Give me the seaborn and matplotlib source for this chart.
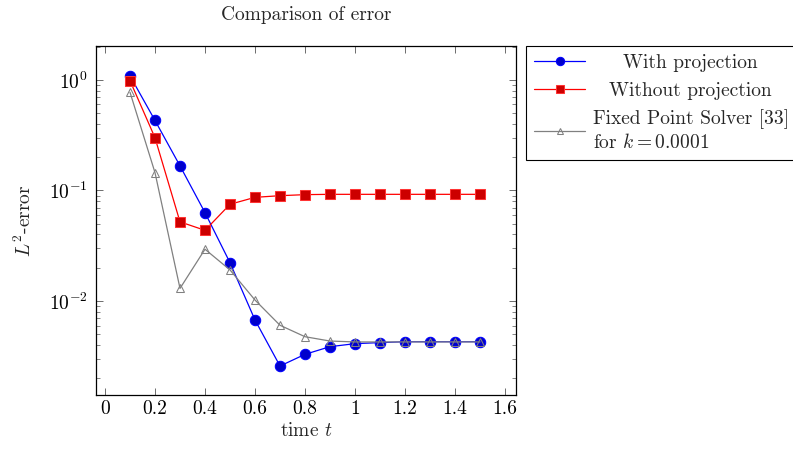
import numpy as np
import pandas as pd
import matplotlib
matplotlib.use("Agg")
import matplotlib.pyplot as plt
import seaborn as sns
from matplotlib.ticker import LogLocator, NullFormatter
from matplotlib.transforms import Affine2D

t = [0.1, 0.2, 0.3, 0.4, 0.5, 0.6, 0.7, 0.8, 0.9, 1.0, 1.1, 1.2, 1.3, 1.4, 1.5]
with_proj = [1.09, 0.43, 0.167, 0.063, 0.0222, 0.00673, 0.00258, 0.00329, 0.00386,
             0.00411, 0.0042, 0.00428, 0.00428, 0.00428, 0.00428]
without_proj = [0.985, 0.30, 0.052, 0.0436, 0.075, 0.0867, 0.0897, 0.0917, 0.0923,
                0.0923, 0.0923, 0.0923, 0.0923, 0.0923, 0.0923]
fixed_point = [0.774, 0.145, 0.0130, 0.0294, 0.0191, 0.0102, 0.00603, 0.00475, 0.00434,
               0.00426, 0.00426, 0.00426, 0.00426, 0.00426, 0.00426]
labels = ["With projection", "Without projection", "Fixed Point Solver [33]\nfor $k = 0.0001$"]
xticks = [0, 0.2, 0.4, 0.6, 0.8, 1.0, 1.2, 1.4, 1.6]
xticklabels = ["0", "0.2", "0.4", "0.6", "0.8", "1", "1.2", "1.4", "1.6"]

sns.set_theme(style="ticks")
plt.rcParams["font.family"] = ["cmr10", "DejaVu Serif"]
plt.rcParams["mathtext.fontset"] = "cm"
plt.rcParams["axes.formatter.use_mathtext"] = True
plt.rcParams["axes.unicode_minus"] = False

fs = 14
fig = plt.figure(figsize=(7.93, 4.5), dpi=100)
ax = fig.add_axes([96/793, 1-395/450, 420/793, 349/450])

sns.lineplot(x=t, y=with_proj, ax=ax, color="#0000ff", lw=0.9, marker="o",
             markersize=7.5, markerfacecolor="#0000cc", markeredgecolor="#0000ff",
             label=labels[0])
sns.lineplot(x=t, y=without_proj, ax=ax, color="#ff0000", lw=0.9, marker="s",
             markersize=7.5, markerfacecolor="#cc0000", markeredgecolor="#ff3333",
             label=labels[1])
sns.lineplot(x=t, y=fixed_point, ax=ax, color="#808080", lw=0.9, marker="^",
             markersize=6, markerfacecolor="none", markeredgecolor="#808080",
             label=labels[2])

ax.set_yscale("log")
ax.set_xlim(-0.036, 1.644)
ax.set_ylim(0.00141, 2.03)
ax.set_xticks(xticks)
ax.set_xticklabels(xticklabels)
ax.yaxis.set_major_locator(LogLocator(base=10, numticks=10))
ax.yaxis.set_minor_locator(LogLocator(base=10, subs=np.arange(2, 10), numticks=10))
ax.yaxis.set_minor_formatter(NullFormatter())

ax.tick_params(axis="both", which="both", direction="in", top=True, right=True,
               labelsize=fs, colors="black")
ax.tick_params(which="major", length=5, width=0.6, color="#555555")
ax.tick_params(which="minor", length=3, width=0.5, color="#555555")
ax.tick_params(axis="y", which="major", pad=6)
ax.tick_params(axis="x", which="minor", bottom=False, top=False)
for s in ax.spines.values():
    s.set_linewidth(0.9)
    s.set_color("black")

ax.set_title("Comparison of error", fontsize=fs, pad=19)
ax.set_xlabel("time $t$", fontsize=fs, labelpad=3)
ax.set_ylabel("$L^2$-error", fontsize=fs, labelpad=10)

leg = ax.legend(loc="upper left", bbox_to_anchor=(1.025, 1.0), fontsize=fs,
                frameon=True, fancybox=False, edgecolor="black", framealpha=1,
                borderaxespad=0, handlelength=2.6, handletextpad=0.4,
                labelspacing=0.5, borderpad=0.4, markerscale=0.8)
leg.get_frame().set_linewidth(0.8)
for tx in leg.get_texts():
    tx.set_linespacing(1.25)

# centre single-line legend entries within the text column
fig.canvas.draw()
r = fig.canvas.get_renderer()
widths = [tx.get_window_extent(r).width for tx in leg.get_texts()]
maxw = max(widths)
for tx, w in zip(leg.get_texts(), widths):
    if "\n" not in tx.get_text():
        tx.set_transform(tx.get_transform() + Affine2D().translate((maxw - w) / 2, 0))

fig.savefig("out.png", dpi=100)
